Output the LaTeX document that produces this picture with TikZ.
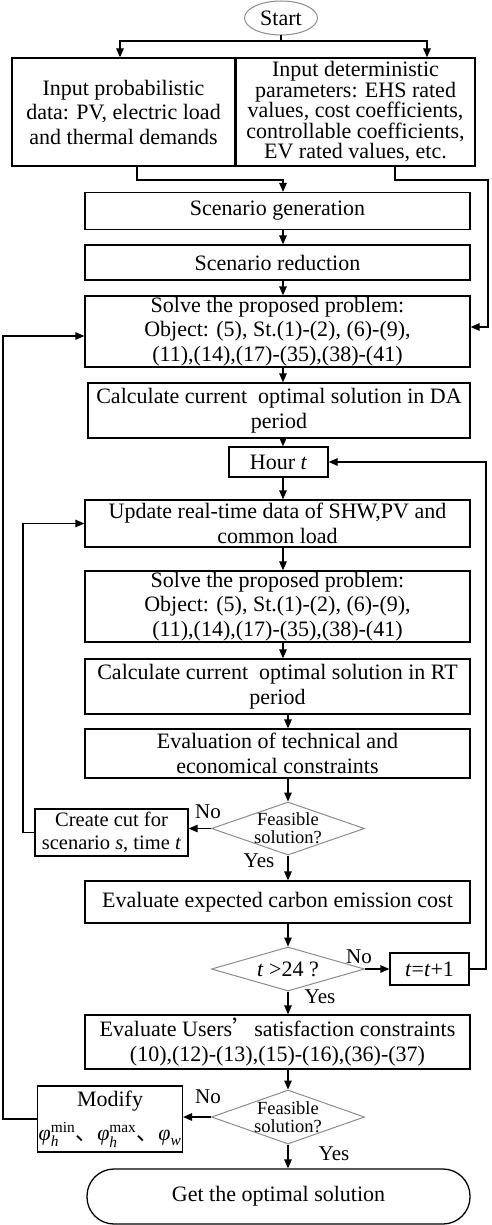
\documentclass[tikz,border=0pt]{standalone}
\usepackage{amsmath}
\usepackage{fontspec}
\setmainfont{Liberation Serif}
\newfontfamily\cjk{Noto Sans CJK SC}
\usetikzlibrary{shapes.geometric,arrows.meta}

\begin{document}
\begin{tikzpicture}[x=1pt,y=-1pt,
  box/.style={draw, line width=1.3pt, align=center, inner sep=1pt, font=\fontsize{22}{24.5}\selectfont},
  decision/.style={draw=black!45, line width=1pt, shape=diamond, aspect=2.9, inner xsep=-4pt, inner ysep=-2pt, align=center, font=\fontsize{18.5}{18}\selectfont},
  arr/.style={-{Triangle[length=9pt,width=7.5pt]}, line width=1.3pt},
  lbl/.style={inner sep=0pt, font=\fontsize{21}{21}\selectfont}]
\useasboundingbox (0,0) rectangle (491,1225);
% start and inputs
\node[draw=black!45, line width=1pt, ellipse, inner sep=0pt, minimum width=73pt, minimum height=34pt, font=\fontsize{22}{24}\selectfont] (start) at (281,18) {Start};
\node[box, minimum width=223pt, minimum height=108pt] (inprob) at (123.5,112) {Input probabilistic\\data: PV, electric load\\and thermal demands};
\node[box, minimum width=239pt, minimum height=108pt, font=\fontsize{22}{20.5}\selectfont] (indet) at (355.5,112) {Input deterministic\\parameters: EHS rated\\values, cost coefficients,\\controllable coefficients,\\EV rated values, etc.};
% day-ahead stage
\node[box, minimum width=385pt, minimum height=37pt] (scengen) at (277.5,211) {Scenario generation};
\node[box, minimum width=385pt, minimum height=35pt] (scenred) at (277.5,262.5) {Scenario reduction};
\node[box, minimum width=385pt, minimum height=71pt] (solve1) at (277.5,331.5) {Solve the proposed problem:\\Object: (5), St.(1)-(2), (6)-(9),\\(11),(14),(17)-(35),(38)-(41)};
\node[box, minimum width=382pt, minimum height=55pt] (calcda) at (279,410.5) {Calculate current~ optimal solution in DA\\period};
% real-time stage
\node[box, minimum width=99pt, minimum height=30pt] (hour) at (278.5,462) {Hour \textit{t}};
\node[box, minimum width=385pt, minimum height=47pt] (update) at (277.5,523.5) {Update real-time data of SHW,PV and\\common load};
\node[box, minimum width=385pt, minimum height=71pt] (solve2) at (277.5,606.5) {Solve the proposed problem:\\Object: (5), St.(1)-(2), (6)-(9),\\(11),(14),(17)-(35),(38)-(41)};
\node[box, minimum width=385pt, minimum height=55pt] (calcrt) at (277.5,686.5) {Calculate current~ optimal solution in RT\\period};
\node[box, minimum width=385pt, minimum height=49pt] (evaltc) at (277.5,753.5) {Evaluation of technical and\\economical constraints};
\node[decision, minimum width=153pt, minimum height=53pt] (feas1) at (288,828.5) {Feasible\\solution?};
\node[box, minimum width=153pt, minimum height=47pt, font=\fontsize{20.5}{23}\selectfont] (cut) at (111.5,832.5) {Create cut for\\scenario \textit{s}, time \textit{t}};
\node[box, minimum width=385pt, minimum height=42pt] (carbon) at (277.5,902) {Evaluate expected carbon emission cost};
\node[decision, minimum width=153pt, minimum height=44pt, font=\fontsize{22}{24}\selectfont] (t24) at (288,969) {\textit{t} >24 ?};
\node[box, minimum width=79pt, minimum height=32pt] (tinc) at (429.5,969) {\textit{t}=\textit{t}+1};
% users' satisfaction
\node[box, minimum width=385pt, minimum height=54pt] (users) at (277.5,1042) {Evaluate Users{\cjk ’}satisfaction constraints\\(10),(12)-(13),(15)-(16),(36)-(37)};
\node[decision, minimum width=153pt, minimum height=54pt] (feas2) at (288,1117) {Feasible\\solution?};
\node[box, minimum width=144pt, minimum height=66pt, font=\fontsize{22}{34}\selectfont] (modify) at (110,1119) {Modify\\$\textit{φ}_{\textit{h}}^{\textrm{min}}${\cjk 、}$\textit{φ}_{\textit{h}}^{\textrm{max}}${\cjk 、}$\textit{φ}_{\textit{w}}$};
\node[box, rounded corners=27pt, minimum width=383pt, minimum height=55pt] (final) at (278.5,1196.5) {Get the optimal solution};
% helper coordinates
\coordinate (split) at (281,41);
\coordinate (merge) at (283,180);
\coordinate (rtop) at (488,180);
\coordinate (spA) at (283,0);
\coordinate (spB) at (288,0);
\coordinate (lx) at (23,0);
\coordinate (rx) at (486,0);
\coordinate (ox) at (3,0);
% connectors
\draw[line width=1.3pt] (start.south) -- (split);
\draw[arr] (split) -| ([xshift=-3.5pt]inprob.north);
\draw[arr] (split) -| ([xshift=71.5pt]indet.north);
\draw[arr] ([xshift=13.5pt]inprob.south) |- (merge) -- (scengen.north -| merge);
\draw[arr] ([xshift=39.5pt]indet.south) |- (rtop) |- ([yshift=4.5pt]solve1.east);
\foreach \a/\b in {scengen/scenred, scenred/solve1, solve1/calcda, calcda/hour, hour/update, update/solve2, solve2/calcrt}
  \draw[arr] (\a.south -| spA) -- (\b.north -| spA);
\foreach \a/\b in {calcrt/evaltc, evaltc/feas1, feas1/carbon, carbon/t24, t24/users, users/feas2, feas2/final}
  \draw[arr] (\a.south -| spB) -- (\b.north -| spB);
\draw[arr] (feas1.west) -- (feas1.west -| cut.east);
\draw[arr] (cut.west) -- (cut.west -| lx) |- (update.west);
\draw[arr] (t24.east) -- (t24.east -| tinc.west);
\draw[arr] (tinc.east) -- (tinc.east -| rx) |- (hour.east);
\draw[arr] (feas2.west) -- (feas2.west -| modify.east);
\draw[arr] (modify.west) -- (modify.west -| ox) |- ([yshift=-4.5pt]solve1.west);
% branch labels
\node[lbl] (no1) at (208,812) {No};
\node[lbl] (yes1) at (259,861) {Yes};
\node[lbl] (no2) at (359,957) {No};
\node[lbl] (yes2) at (320,997) {Yes};
\node[lbl] (no3) at (208,1097) {No};
\node[lbl] (yes3) at (334,1154) {Yes};
\end{tikzpicture}
\end{document}
